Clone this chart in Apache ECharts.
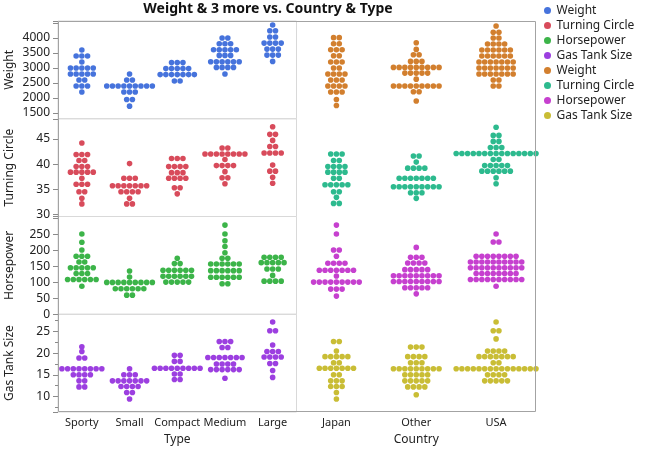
<!DOCTYPE html>
<html>
<head>
<meta charset="utf-8">
<script src="https://cdn.jsdelivr.net/npm/echarts@6/dist/echarts.min.js"></script>
<style>
  html, body { margin: 0; padding: 0; background: #fff; }
  #chart { width: 658px; height: 451px; }
</style>
</head>
<body>
<div id="chart"></div>
<script>
// categories
const typeCats = ['Sporty', 'Small', 'Compact', 'Medium', 'Large'];
const countryCats = ['Japan', 'Other', 'USA'];
const rowVars = ['Weight', 'Turning Circle', 'Horsepower', 'Gas Tank Size'];

// tick labels per row
const weightTicks = [1500, 2000, 2500, 3000, 3500, 4000];
const tcTicks = [30, 35, 40, 45];
const hpTicks = [0, 50, 100, 150, 200, 250];
const gasTicks = [10, 15, 20, 25];

// binned values: [value, number of dots] per category
const weightByType = [
  [[3600,1],[3400,3],[3200,1],[3000,5],[2800,5],[2600,2],[2400,3],[2200,1]],
  [[2800,1],[2600,2],[2400,9],[2200,3],[1950,2],[1730,1]],
  [[3180,3],[2980,5],[2780,7],[2570,2]],
  [[4000,2],[3810,3],[3610,5],[3420,3],[3210,6],[3020,4],[2800,1]],
  [[4430,1],[4240,2],[4030,2],[3830,4],[3630,3],[3430,3],[3220,1]]
];
const weightByCountry = [
  [[4010,2],[3810,2],[3610,3],[3410,2],[3200,3],[3000,2],[2800,4],[2600,3],[2400,4],[2200,3],[1950,1],[1750,1]],
  [[3840,1],[3620,1],[3440,2],[3220,3],[3020,9],[2830,5],[2630,1],[2400,9],[2210,2],[1900,1]],
  [[4400,1],[4190,2],[4000,2],[3800,4],[3600,6],[3400,6],[3200,7],[3000,7],[2800,7],[2600,2],[2400,2]]
];
const tcByType = [
  [[44.2,1],[41.9,3],[40.7,2],[39.5,3],[38.4,5],[37.2,1],[36.0,3],[34.5,2],[33.2,1],[32.1,1]],
  [[40.1,1],[37.2,3],[35.7,7],[34.5,4],[33.2,1],[32.1,2]],
  [[41.1,3],[39.5,4],[38.3,3],[37.2,4],[35.3,2],[34.1,1]],
  [[43.2,2],[42.0,8],[40.9,1],[39.7,4],[38.5,1],[37.3,2],[36.1,1]],
  [[47.4,1],[45.9,2],[44.7,1],[43.5,2],[42.2,4],[39.8,1],[38.6,2],[37.4,1],[36.2,1]]
];
const tcByCountry = [
  [[42.0,3],[40.7,2],[39.5,4],[38.4,4],[37.2,2],[35.9,5],[34.5,2],[33.4,1],[32.2,2]],
  [[41.6,2],[40.4,1],[39.2,4],[37.2,7],[35.5,9],[34.3,3],[33.2,1]],
  [[47.3,1],[45.7,2],[44.5,2],[43.3,3],[42.1,15],[40.9,2],[39.7,5],[38.6,6],[37.3,1],[36.1,1]]
];
const hpByType = [
  [[252,1],[226,1],[202,1],[182,3],[164,2],[146,5],[128,3],[109,6],[88,1]],
  [[136,1],[117,1],[100,9],[80,6],[60,2]],
  [[176,1],[159,2],[138,6],[119,6],[101,5]],
  [[280,1],[252,1],[231,1],[213,1],[193,1],[176,2],[158,6],[137,6],[116,6],[96,2]],
  [[179,4],[162,5],[142,3],[122,1],[104,4]]
];
const hpByCountry = [
  [[280,1],[252,1],[202,2],[182,1],[160,4],[138,7],[120,1],[101,9],[79,3],[57,1]],
  [[210,1],[179,3],[161,4],[140,5],[121,9],[103,9],[83,5],[64,1]],
  [[252,1],[227,2],[182,8],[164,10],[146,10],[128,8],[109,10],[88,1]]
];
const gasByType = [
  [[21.5,1],[20.4,1],[18.9,2],[16.4,8],[15.0,4],[13.6,2],[12.2,2]],
  [[16.4,1],[15.0,3],[13.6,7],[12.3,4],[10.9,2],[9.4,1]],
  [[19.5,2],[18.1,2],[16.5,9],[15.2,2],[13.9,2]],
  [[22.7,3],[21.3,2],[19.0,7],[17.5,4],[16.2,6],[14.2,1]],
  [[27.2,1],[25.2,2],[21.9,1],[20.4,3],[19.1,4],[17.6,2],[16.0,1],[14.4,1]]
];
const gasByCountry = [
  [[22.7,2],[20.5,1],[19.2,5],[17.8,2],[16.5,7],[15.0,2],[13.6,3],[12.3,3],[10.9,1],[9.4,1]],
  [[21.4,3],[19.2,4],[17.8,3],[16.4,9],[15.0,5],[13.6,5],[12.2,4],[10.4,1]],
  [[27.2,1],[25.2,2],[23.3,1],[20.5,4],[19.2,7],[17.8,2],[16.4,15],[15.0,4],[13.6,5]]
];

const rows = [
  { byType: weightByType, byCountry: weightByCountry, ticks: weightTicks, step: 500, minor: false, min: 1311, max: 4565, colors: ['#4673dc', '#d27f2e'] },
  { byType: tcByType, byCountry: tcByCountry, ticks: tcTicks, step: 5, minor: false, min: 29.6, max: 49.0, colors: ['#d84b5b', '#2dba8e'] },
  { byType: hpByType, byCountry: hpByCountry, ticks: hpTicks, step: 50, minor: false, min: 0, max: 307, colors: ['#3cb449', '#c640cf'] },
  { byType: gasByType, byCountry: gasByCountry, ticks: gasTicks, step: 5, minor: true, min: 6.4, max: 29.0, colors: ['#9c3fe0', '#c9bd35'] }
];

// plot frame
const L = 58, MID = 296.5, R = 536, T = 21, B = 412;
const rowH = (B - T) / 4;
const dotGap = 5.7; // px between neighbouring dots in a row
const font = 'Noto Sans';

// spread each binned value into a centred horizontal row of dots
function swarm(groups, step) {
  const pts = [];
  groups.forEach((bins, ci) => {
    bins.forEach(([v, n]) => {
      for (let k = 0; k < n; k++) pts.push([ci + (k - (n - 1) / 2) * step, v]);
    });
  });
  return pts;
}

const grid = [], xAxis = [], yAxis = [], series = [], legendNames = [];
const colSpecs = [
  { cats: typeCats, left: L, width: MID - L, title: 'Type', key: 'byType' },
  { cats: countryCats, left: MID, width: R - MID, title: 'Country', key: 'byCountry' }
];

colSpecs.forEach((col, c) => {
  rows.forEach((row, r) => {
    const idx = grid.length;
    const bottomRow = r === rows.length - 1;
    grid.push({
      left: col.left, top: T + r * rowH, width: col.width, height: rowH,
      show: c === 0, borderColor: '#d9d9d9', borderWidth: 1
    });
    const step = dotGap / (col.width / col.cats.length);
    xAxis.push({
      type: 'value', gridIndex: idx, min: -0.5, max: col.cats.length - 0.5,
      show: bottomRow,
      axisLine: { show: false, onZero: false }, axisTick: { show: false }, splitLine: { show: false },
      axisLabel: {
        customValues: col.cats.map((_, i) => i),
        formatter: v => col.cats[Math.round(v)],
        color: '#222', fontSize: 11, fontFamily: font, margin: 5
      },
      name: col.title, nameLocation: 'middle', nameGap: 22,
      nameTextStyle: { color: '#222', fontSize: 12, fontFamily: font }
    });
    yAxis.push({
      type: 'value', gridIndex: idx, min: row.min, max: row.max,
      minInterval: row.step, maxInterval: row.step,
      show: c === 0,
      axisLine: { show: false, onZero: false }, splitLine: { show: false },
      axisTick: { show: true, length: 5, lineStyle: { color: '#8a8a8a' } },
      minorTick: { show: row.minor, splitNumber: 2, length: 3, lineStyle: { color: '#8a8a8a' } },
      axisLabel: {
        formatter: v => (row.ticks.includes(v) ? String(v) : ''),
        showMinLabel: true, showMaxLabel: true,
        color: '#222', fontSize: 12, fontFamily: font, margin: 8
      },
      name: rowVars[r], nameLocation: 'middle', nameGap: 42,
      nameTextStyle: { color: '#222', fontSize: 12, fontFamily: font }
    });
    const name = rowVars[r] + '|' + col.title;
    legendNames.push(name);
    series.push({
      name, type: 'scatter', xAxisIndex: idx, yAxisIndex: idx,
      symbol: 'circle', symbolSize: 5.6, clip: true,
      itemStyle: { color: row.colors[c], opacity: 1 },
      data: swarm(row[col.key], step),
      silent: true
    });
  });
});

const chart = echarts.init(document.getElementById('chart'), null, { renderer: 'canvas' });
chart.setOption({
  animation: false,
  title: {
    text: 'Weight & 3 more vs. Country & Type',
    left: 268, top: 2, padding: 0, textAlign: 'center',
    textStyle: { fontSize: 14, fontWeight: 'bold', color: '#111', fontFamily: font }
  },
  legend: {
    data: legendNames, orient: 'vertical', left: 544, top: 3, padding: 0,
    icon: 'circle', itemWidth: 8, itemHeight: 7, itemGap: 0, selectedMode: false,
    formatter: n => n.split('|')[0],
    textStyle: { fontSize: 12, color: '#222', fontFamily: font, lineHeight: 15 }
  },
  grid, xAxis, yAxis, series,
  graphic: [{
    type: 'rect', z: 100, silent: true,
    shape: { x: L + 0.5, y: T + 0.5, width: R - L - 1, height: B - T - 1 },
    style: { fill: 'none', stroke: '#a3a3a3', lineWidth: 1 }
  }]
});
</script>
</body>
</html>
